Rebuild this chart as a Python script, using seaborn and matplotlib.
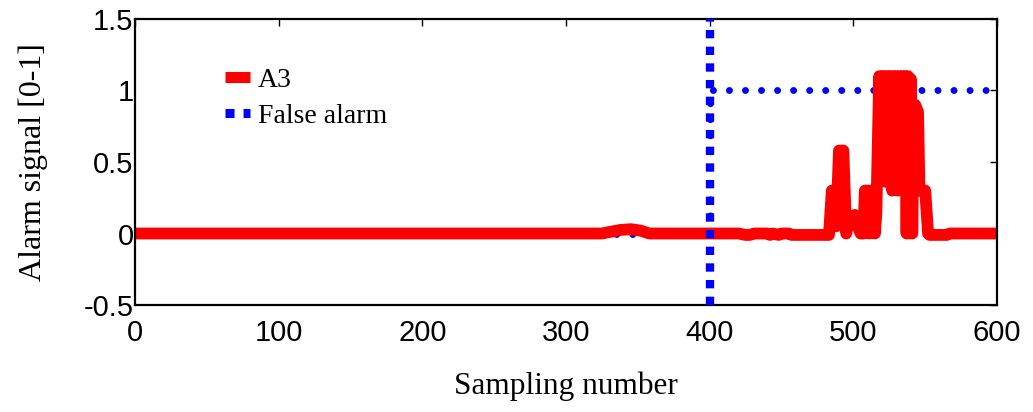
import numpy as np
import pandas as pd
import seaborn as sns
import matplotlib.pyplot as plt
from matplotlib.lines import Line2D

# red alarm signal A3
a3_x = [0, 325, 330, 338, 345, 352, 358, 420, 425, 428, 431, 440, 442, 444, 448,
        450, 455, 457, 470, 483, 485, 487, 488, 490, 493, 495, 497, 501, 503, 505,
        507, 508, 510, 511, 512, 514, 515, 516, 518, 519, 520, 521, 522, 523, 524,
        525, 526, 527, 528, 529, 530, 531, 532, 533, 534, 535, 536, 537, 538, 539,
        540, 541, 542, 543, 545, 546, 550, 552, 553, 565, 567, 600]
a3_y = [0, 0, 0.01, 0.025, 0.03, 0.02, 0, 0, -0.01, -0.01, 0, 0, -0.01, 0, -0.01,
        0, 0, -0.01, -0.01, -0.01, 0.3, 0.3, 0.05, 0.58, 0.58, 0.0, 0.1, 0.13, 0.05, 0.0,
        0.0, 0.3, 0.3, 0.0, 0.3, 0.3, 0.0, 0.15, 1.1, 0.5, 1.1, 0.7, 1.1, 0.36, 1.1,
        0.36, 1.1, 0.3, 1.1, 0.6, 1.1, 0.3, 1.1, 0.5, 1.1, 0.3, 1.1, 0.0, 1.1, 0.0,
        1.08, 0.0, 0.9, 0.9, 0.85, 0.3, 0.3, 0.0, -0.01, -0.01, 0, 0]

# false alarm line: 0 before sample 400, 1 after
fa_x = [0, 400, 400, 600]
fa_y = [0, 0, 1, 1]
fa_vx = [400, 400]
fa_vy = [-0.5, 1.5]

x_ticks = [0, 100, 200, 300, 400, 500, 600]
y_ticks = [-0.5, 0, 0.5, 1, 1.5]

sns.set_style("white")
plt.rcParams['font.family'] = ['Liberation Sans', 'DejaVu Sans']
plt.rcParams['text.color'] = 'black'
plt.rcParams['axes.labelcolor'] = 'black'

fig = plt.figure(figsize=(10.33, 4.12), dpi=100)
ax = fig.add_axes([0.1307, 0.2597, 0.8345, 0.6942])

# horizontal false alarm dots (under the red line)
sns.lineplot(x=fa_x, y=fa_y, ax=ax, estimator=None, sort=False, color="#0000ff",
             linewidth=5, zorder=1)
ax.lines[-1].set_linestyle((0, (0.01, 2.3)))
ax.lines[-1].set_dash_capstyle("round")

sns.lineplot(x=a3_x, y=a3_y, ax=ax, estimator=None, sort=False, color="#ff0000",
             linewidth=8.5, zorder=2, solid_capstyle="round", solid_joinstyle="round")

# vertical false alarm marker at sample 400
sns.lineplot(x=fa_vx, y=fa_vy, ax=ax, estimator=None, sort=False, color="#0000ff",
             linewidth=6, zorder=3)
ax.lines[-1].set_linestyle((0, (1, 1)))
ax.lines[-1].set_dash_capstyle("butt")

ax.set_xlim(0, 600)
ax.set_ylim(-0.5, 1.5)
ax.set_xticks(x_ticks)
ax.set_yticks(y_ticks)
ax.set_xticklabels([str(t) for t in x_ticks])
ax.set_yticklabels(["-0.5", "0", "0.5", "1", "1.5"])
ax.tick_params(direction="in", length=5, width=1, top=True, right=True,
               labelsize=21, colors="black")
ax.tick_params(axis="y", pad=1)
ax.tick_params(axis="x", pad=10)
for s in ax.spines.values():
    s.set_linewidth(1.6)
    s.set_color("black")

ax.set_xlabel("Sampling number", family="Liberation Serif", fontsize=22.5, labelpad=18)
ax.set_ylabel("Alarm signal [0-1]", family="Liberation Serif", fontsize=23, labelpad=26)

handles = [
    Line2D([], [], color="#ff0000", linewidth=8, solid_capstyle="butt"),
    Line2D([], [], color="#0000ff", linewidth=6.5, linestyle=(0, (1, 1)),
           dash_capstyle="butt"),
]
ax.legend(handles, ["A3", "False alarm"], loc="upper left", bbox_to_anchor=(0.104, 0.83),
          frameon=False, prop={"family": "Liberation Serif", "size": 20},
          handlelength=0.9, handletextpad=0.3, labelspacing=0.38, borderpad=0,
          borderaxespad=0, labelcolor="black")

fig.savefig("out.png", dpi=100)
